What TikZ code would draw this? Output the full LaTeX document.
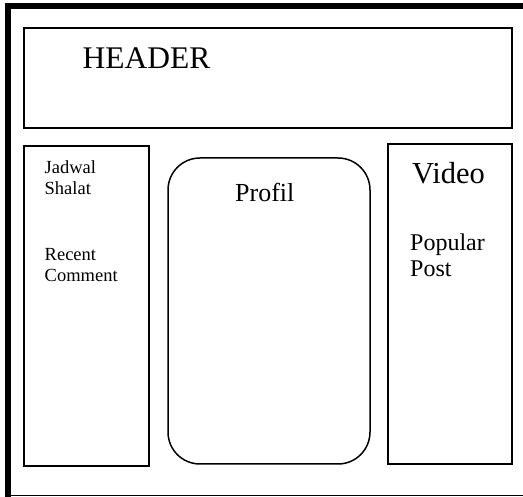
\documentclass[tikz,border=0pt]{standalone}
\usepackage{fontspec}
\setmainfont{Liberation Serif}
\usepackage{tikz}
\tikzset{every picture/.append style={x=1pt, y=-1pt}}
\tikzset{
    box/.style={draw, line width=1.5pt, inner sep=0pt},
    lbl/.style={anchor=base west, inner sep=0pt, align=left}
}

\begin{document}
\begin{tikzpicture}
  \useasboundingbox (0,0) rectangle (523,497);
  \draw[line width=6pt] (8,497) -- (8,6) -- (523,6);
  \draw[line width=1pt] (5,496) -- (523,496);

  \node (header) [box, minimum width=488pt, minimum height=100pt] at (268,78) {};
  \node (side) [box, minimum width=125pt, minimum height=320pt] at (86.5,306) {};
  \node (profil) [box, rounded corners=32pt, minimum width=202pt, minimum height=306pt] at (269,311) {};
  \node (video) [box, minimum width=124pt, minimum height=320pt] at (450,304) {};

  % base anchor of a two-line label sits on its last line
  \node (th) [lbl, font=\fontsize{31.5}{36}\selectfont] at (82.5,69) {HEADER};
  \node (tj) [lbl, font=\fontsize{18.5}{21}\selectfont] at (44.5,194.5) {Jadwal\\Shalat};
  \node (tr) [lbl, font=\fontsize{18.5}{21}\selectfont] at (44.5,282) {Recent\\Comment};
  \node (tp) [lbl, font=\fontsize{26}{30}\selectfont] at (235,201.5) {Profil};
  \node (tv) [lbl, font=\fontsize{30.5}{35}\selectfont] at (412,184) {Video};
  \node (tpp) [lbl, font=\fontsize{24}{26}\selectfont] at (410,277) {Popular\\Post};
\end{tikzpicture}
\end{document}
